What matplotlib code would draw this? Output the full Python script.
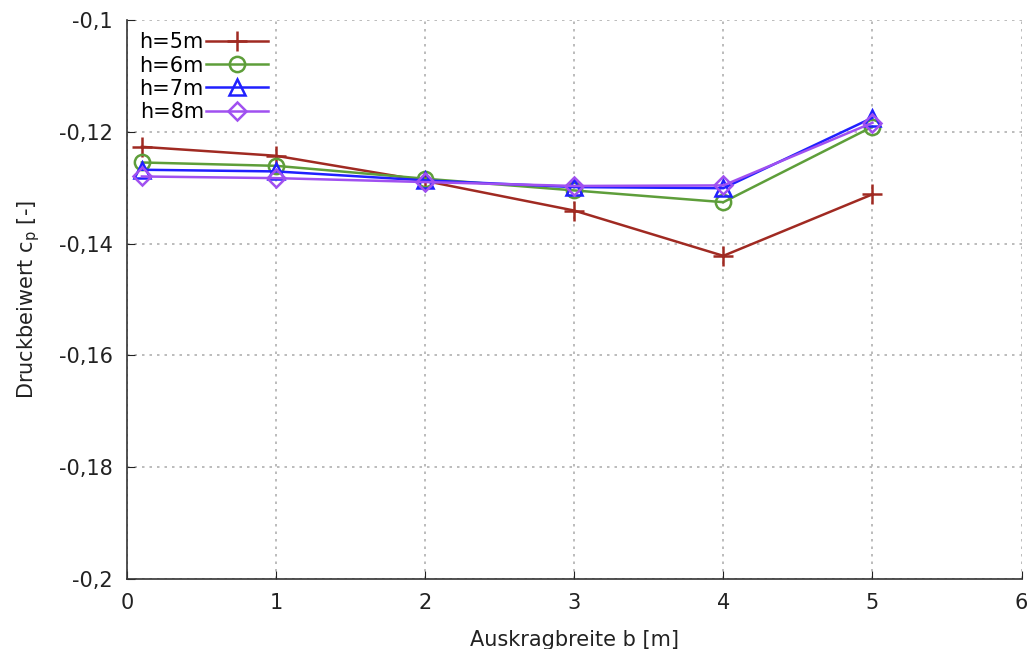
import matplotlib
matplotlib.use("Agg")
import matplotlib.pyplot as plt
from matplotlib.ticker import FuncFormatter

# Auskragbreite b [m]
b = [0.1, 1, 2, 3, 4, 5]

# Druckbeiwert cp je Hoehe
cp_h5 = [-0.1227, -0.1243, -0.1288, -0.1341, -0.1422, -0.1312]
cp_h6 = [-0.1255, -0.1261, -0.1284, -0.1305, -0.1326, -0.1191]
cp_h7 = [-0.1268, -0.1271, -0.1287, -0.1299, -0.1301, -0.1175]
cp_h8 = [-0.1280, -0.1283, -0.1290, -0.1297, -0.1296, -0.1184]

labels = ["h=5m", "h=6m", "h=7m", "h=8m"]
colors = ["#a02a22", "#5e9e3a", "#2020ff", "#a050f0"]
markers = ["+", "o", "^", "D"]

fig = plt.figure(figsize=(10.33, 6.49), dpi=100)
ax = fig.add_axes([0.1229, 0.1079, 0.8660, 0.8614])

series = [cp_h5, cp_h6, cp_h7, cp_h8]
for vals, lab, col, mk in zip(series, labels, colors, markers):
    ms = 14 if mk == "+" else (11 if mk != "D" else 9)
    ax.plot(b, vals, color=col, lw=1.8, marker=mk, markersize=ms,
            markerfacecolor="none", markeredgecolor=col, markeredgewidth=1.8,
            label=lab)

ax.set_xlim(0, 6)
ax.set_ylim(-0.2, -0.1)
ax.set_xticks(range(0, 7))
ax.set_yticks([-0.2, -0.18, -0.16, -0.14, -0.12, -0.1])
ax.yaxis.set_major_formatter(FuncFormatter(
    lambda v, p: ("%g" % round(v, 2)).replace(".", ",")))

for s in ["top", "right"]:
    ax.spines[s].set_visible(False)
for s in ["left", "bottom"]:
    ax.spines[s].set_color("#333333")
    ax.spines[s].set_linewidth(1.2)

ax.tick_params(direction="in", length=6, labelsize=15, pad=10, colors="#222222")
ax.grid(True, color="#b0b0b0", linestyle=(0, (1.5, 3)), linewidth=1.2)

ax.set_xlabel("Auskragbreite b [m]", fontsize=15, color="#222222", labelpad=12)
ax.set_ylabel("Druckbeiwert c$_\\mathregular{p}$ [-]", fontsize=15,
              color="#222222", labelpad=12)

ax.legend(loc="upper left", frameon=False, fontsize=15, markerfirst=False,
          handlelength=3.0, handletextpad=0.1, labelspacing=0.15,
          borderaxespad=0.2, bbox_to_anchor=(0.0, 1.0))

fig.savefig("out.png", dpi=100)
